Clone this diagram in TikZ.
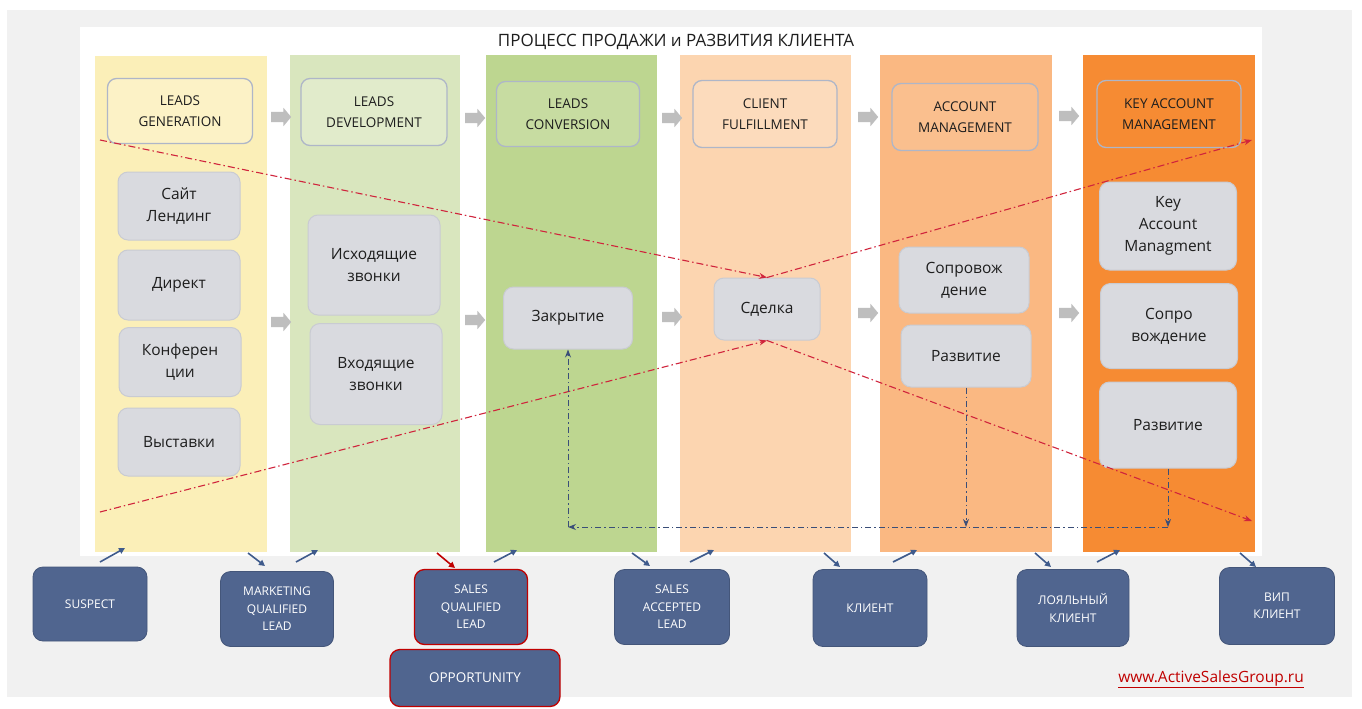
\documentclass[tikz,border=0pt]{standalone}
\usepackage{fontspec}
\setmainfont{Open Sans}
\usetikzlibrary{arrows.meta,shapes.arrows}
\definecolor{bggrey}{HTML}{F1F1F1}
\definecolor{cA}{HTML}{FBEFB8}
\definecolor{cB}{HTML}{D9E6BE}
\definecolor{cC}{HTML}{BDD690}
\definecolor{cD}{HTML}{FCD5B0}
\definecolor{cE}{HTML}{FAB882}
\definecolor{cF}{HTML}{F68B33}
\definecolor{hdrborder}{HTML}{AEB6C8}
\definecolor{itemfill}{HTML}{D9DADF}
\definecolor{itemborder}{HTML}{C9CBD2}
\definecolor{txt}{HTML}{1E1E1E}
\definecolor{arrowgrey}{HTML}{BEBEBE}
\definecolor{stagefill}{HTML}{50658F}
\definecolor{redline}{HTML}{D0243C}
\definecolor{blueline}{HTML}{3A4E78}
\definecolor{smallarrow}{HTML}{3F5B8C}
\definecolor{linkred}{HTML}{C00000}
\begin{document}
\begin{tikzpicture}[x=1pt,y=-1pt,
  colbox/.style={inner sep=0pt, outer sep=0pt, draw=none},
  hdr/.style={draw=hdrborder, line width=1.3pt, rounded corners=9pt, align=center,
    font=\fontsize{13.5}{21}\selectfont, text=txt, inner sep=0pt},
  item/.style={draw=itemborder, fill=itemfill, line width=1pt, rounded corners=10pt, align=center,
    font=\fontsize{15.5}{22}\selectfont, text=txt, inner sep=0pt},
  stage/.style={fill=stagefill, draw=stagefill!85!black, line width=0.8pt, rounded corners=10pt, align=center,
    text=white, font=\fontsize{12}{17.5}\selectfont, inner sep=0pt},
  redstage/.style={stage, draw=linkred, line width=1.3pt},
  garrow/.style={single arrow, fill=arrowgrey, draw=none, minimum height=20pt,
    single arrow head extend=4pt, single arrow tip angle=100, inner xsep=0pt, inner ysep=5pt},
  reddash/.style={draw=redline, line width=1.1pt, dash pattern=on 7pt off 3pt on 1.5pt off 3pt,
    -{Stealth[length=8pt,width=6pt]}},
  bluedash/.style={draw=blueline, line width=1pt, dash pattern=on 6pt off 3pt on 1.5pt off 3pt},
  bluetip/.style={-{Stealth[length=8pt,width=6pt]}},
  sarrow/.style={draw=smallarrow, line width=1.6pt, -{Triangle[length=6pt,width=6pt]}},
  sarrowred/.style={draw=linkred, line width=1.6pt, -{Triangle[length=6pt,width=6pt]}}
]
% background
\fill[white] (0,0) rectangle (1362,709);
\fill[bggrey] (7,10) rectangle (1352,697);
\fill[white] (80,27) rectangle (1262,556);

% title
\node[font=\fontsize{17}{20}\selectfont, text=txt] (title) at (676,42) {ПРОЦЕСС ПРОДАЖИ и РАЗВИТИЯ КЛИЕНТА};

% columns
\node[colbox, fill=cA, minimum width=172pt, minimum height=496pt] (col1) at (181,304) {};
\node[colbox, fill=cB, minimum width=170pt, minimum height=497pt] (col2) at (375,303.5) {};
\node[colbox, fill=cC, minimum width=171pt, minimum height=497pt] (col3) at (571.5,303.5) {};
\node[colbox, fill=cD, minimum width=171pt, minimum height=497pt] (col4) at (765.5,303.5) {};
\node[colbox, fill=cE, minimum width=172pt, minimum height=497pt] (col5) at (966,303.5) {};
\node[colbox, fill=cF, minimum width=172pt, minimum height=497pt] (col6) at (1169,303.5) {};

% headers
\node[hdr, fill=cA!80!white, minimum width=145pt, minimum height=65pt] (h1) at (180,111) {LEADS\\GENERATION};
\node[hdr, fill=cB!80!white, minimum width=146pt, minimum height=67pt] (h2) at (374,112) {LEADS\\DEVELOPMENT};
\node[hdr, fill=cC!85!white, minimum width=143pt, minimum height=65pt] (h3) at (568,114) {LEADS\\CONVERSION};
\node[hdr, fill=cD!85!white, minimum width=144pt, minimum height=67pt] (h4) at (765,114) {CLIENT\\FULFILLMENT};
\node[hdr, fill=cE!90!white, minimum width=146pt, minimum height=67pt] (h5) at (965,117) {ACCOUNT\\MANAGEMENT};
\node[hdr, fill=cF, minimum width=144pt, minimum height=67pt] (h6) at (1169,114) {KEY ACCOUNT\\MANAGEMENT};

% grey block arrows
\node[garrow] (ga1) at (279,117) {};
\node[garrow] (ga2) at (473,118) {};
\node[garrow] (ga3) at (670,118) {};
\node[garrow] (ga4) at (866,117) {};
\node[garrow] (ga5) at (1067,116) {};
\node[garrow] (gb1) at (279,322) {};
\node[garrow] (gb2) at (473,320) {};
\node[garrow] (gb3) at (670,317) {};
\node[garrow] (gb4) at (866,313) {};
\node[garrow] (gb5) at (1067,313) {};

% items
\node[item, minimum width=122pt, minimum height=68pt] (c1a) at (179,206) {Сайт\\Лендинг};
\node[item, minimum width=122pt, minimum height=70pt] (c1b) at (179,285) {Директ};
\node[item, minimum width=122pt, minimum height=69pt] (c1c) at (180,362) {Конферен\\ции};
\node[item, minimum width=122pt, minimum height=68pt] (c1d) at (179,442) {Выставки};
\node[item, minimum width=132pt, minimum height=100pt] (c2a) at (374,265) {Исходящие\\звонки};
\node[item, minimum width=132pt, minimum height=101pt] (c2b) at (376,374) {Входящие\\звонки};
\node[item, minimum width=129pt, minimum height=62pt] (c3) at (568,318) {Закрытие};
\node[item, minimum width=106pt, minimum height=62pt] (c4) at (767,309) {Сделка};
\node[item, minimum width=130pt, minimum height=66pt] (c5a) at (964,280) {Сопровож\\дение};
\node[item, minimum width=130pt, minimum height=62pt] (c5b) at (966,356) {Развитие};
\node[item, minimum width=137pt, minimum height=88pt] (c6a) at (1168,226) {Key\\Account\\Managment};
\node[item, minimum width=137pt, minimum height=85pt] (c6b) at (1169,326) {Сопро\\вождение};
\node[item, minimum width=137pt, minimum height=86pt] (c6c) at (1168,425) {Развитие};

% red dash-dot lines
\coordinate (r1s) at (100,140);
\coordinate (r2e) at (1252,140);
\coordinate (r3s) at (100,512);
\coordinate (r4e) at (1252,521);
\draw[reddash] (r1s) -- (c4.north);
\draw[reddash] (c4.north) -- (r2e);
\draw[reddash] (r3s) -- (c4.south);
\draw[reddash] (c4.south) -- (r4e);

% blue dash-dot lines
\coordinate (bl) at (568,527);
\coordinate (b5) at (c5b.south |- bl);
\coordinate (b6) at (c6c.south |- bl);
\draw[bluedash, bluetip] (c5b.south) -- (b5);
\draw[bluedash, bluetip] (c6c.south) -- (b6);
\draw[bluedash, bluetip] (b6) -- (bl);
\draw[bluedash, bluetip] (bl) -- (c3.south);

% stages
\node[stage, minimum width=114pt, minimum height=74pt] (s1) at (90,604) {SUSPECT};
\node[stage, minimum width=113pt, minimum height=75pt] (s2) at (277,609) {MARKETING\\QUALIFIED\\LEAD};
\node[redstage, minimum width=113pt, minimum height=75pt] (s3) at (471,607) {SALES\\QUALIFIED\\LEAD};
\node[redstage, minimum width=170pt, minimum height=57pt, font=\fontsize{13.5}{17}\selectfont] (s4) at (475,678) {OPPORTUNITY};
\node[stage, minimum width=115pt, minimum height=75pt] (s5) at (672,607) {SALES\\ACCEPTED\\LEAD};
\node[stage, minimum width=114pt, minimum height=77pt] (s6) at (870,608) {КЛИЕНТ};
\node[stage, minimum width=112pt, minimum height=77pt] (s7) at (1073,608) {ЛОЯЛЬНЫЙ\\КЛИЕНТ};
\node[stage, minimum width=115pt, minimum height=77pt] (s8) at (1277,606) {ВИП\\КЛИЕНТ};

% small arrows between stages and columns
\coordinate (a1s) at (100,562);  \coordinate (a1e) at (125,548);
\coordinate (a2s) at (248,553);  \coordinate (a2e) at (265,566);
\coordinate (a3s) at (296,562);  \coordinate (a3e) at (318,550);
\coordinate (a4s) at (437,553);  \coordinate (a4e) at (455,568);
\coordinate (a5s) at (494,562);  \coordinate (a5e) at (517,550);
\coordinate (a6s) at (632,553);  \coordinate (a6e) at (650,566);
\coordinate (a7s) at (690,562);  \coordinate (a7e) at (714,550);
\coordinate (a8s) at (824,553);  \coordinate (a8e) at (840,567);
\coordinate (a9s) at (893,562);  \coordinate (a9e) at (917,550);
\coordinate (a10s) at (1035,553); \coordinate (a10e) at (1051,567);
\coordinate (a11s) at (1097,562); \coordinate (a11e) at (1120,550);
\coordinate (a12s) at (1240,553); \coordinate (a12e) at (1256,567);
\draw[sarrow] (a1s) -- (a1e);
\draw[sarrow] (a2s) -- (a2e);
\draw[sarrow] (a3s) -- (a3e);
\draw[sarrowred] (a4s) -- (a4e);
\draw[sarrow] (a5s) -- (a5e);
\draw[sarrow] (a6s) -- (a6e);
\draw[sarrow] (a7s) -- (a7e);
\draw[sarrow] (a8s) -- (a8e);
\draw[sarrow] (a9s) -- (a9e);
\draw[sarrow] (a10s) -- (a10e);
\draw[sarrow] (a11s) -- (a11e);
\draw[sarrow] (a12s) -- (a12e);

% link
\node[text=linkred, font=\fontsize{15.5}{18}\selectfont] (link) at (1211,679) {\underline{www.ActiveSalesGroup.ru}};
\end{tikzpicture}
\end{document}
